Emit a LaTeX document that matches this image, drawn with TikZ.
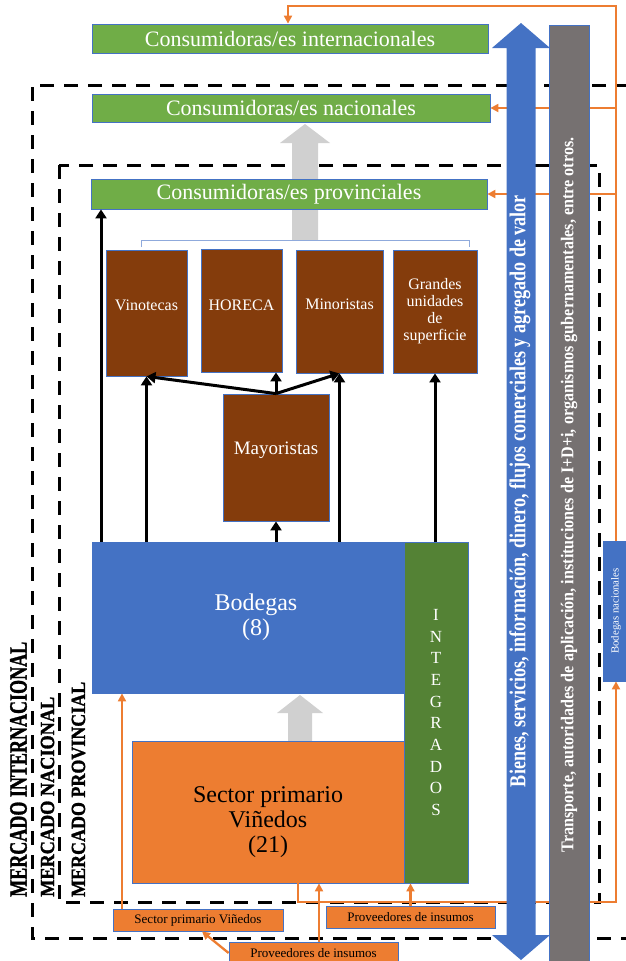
\documentclass[tikz,border=0pt]{standalone}
\usepackage{fontspec}
\setmainfont{Liberation Serif}
\usepackage{graphicx}
\usetikzlibrary{positioning,arrows.meta}
\definecolor{consgreen}{HTML}{70AD47}
\definecolor{edgeblue}{HTML}{4472C4}
\definecolor{wood}{HTML}{843C0C}
\definecolor{vineorange}{HTML}{ED7D31}
\definecolor{integgreen}{HTML}{548235}
\definecolor{bargray}{HTML}{767171}
\definecolor{blockgray}{HTML}{D0D0D0}
\definecolor{brkblue}{HTML}{8FAADC}
\newcommand{\shiftv}[2]{\raisebox{#1}[\height][\depth]{#2}}
\tikzset{
    consumer/.style={rectangle, draw=edgeblue, line width=0.8pt, fill=consgreen, text=white, inner sep=0pt, font=\fontsize{22}{24}\selectfont},
    retail/.style={rectangle, draw=edgeblue, line width=0.8pt, fill=wood, text=white, inner sep=0pt, align=center, font=\fontsize{16}{17}\selectfont},
    supply/.style={rectangle, draw=edgeblue, line width=0.8pt, fill=vineorange, text=black, inner sep=0pt, font=\fontsize{13}{15}\selectfont},
    market/.style={rotate=90, anchor=west, inner sep=0pt, font=\bfseries\addfontfeature{FakeBold=1.5}},
    zone/.style={line width=3pt, dash pattern=on 14pt off 10pt},
    brk/.style={draw=brkblue, line width=0.8pt},
    arr/.style={line width=3pt, -{Triangle[length=9pt,width=11pt]}},
    oarr/.style={draw=vineorange, line width=2.3pt, -{Triangle[length=8pt,width=8pt]}}
    }
\begin{document}
\begin{tikzpicture}[x=1pt, y=-1pt]
    \useasboundingbox (0,0) rectangle (625,961);
    % market zones
    \draw[zone] (630,85) -- (32,85) -- (32,938) -- (630,938);
    \draw[zone] (59,165) rectangle (599,902);
    % grey block arrows
    \fill[blockgray] (292,240) -- (292,143) -- (280,143) -- (305,124) -- (330,143) -- (318,143) -- (318,240) -- cycle;
    \fill[blockgray] (288,741) -- (288,713) -- (277,713) -- (300,695) -- (323,713) -- (312,713) -- (312,741) -- cycle;
    \draw[brk] (141,247) -- (141,240) -- (469,240) -- (469,247);

    \node[consumer, minimum width=396pt, minimum height=29pt] (intl) at (290,38.5) {Consumidoras/es internacionales};
    \node[consumer, minimum width=398pt, minimum height=28pt] (nac) at (291,108) {Consumidoras/es nacionales};
    \node[consumer, minimum width=396pt, minimum height=30pt] (prov) at (289,194) {Consumidoras/es provinciales};

    \node[retail, minimum width=81pt, minimum height=126pt] (vino) at (146.5,313) {\shiftv{8pt}{Vinotecas}};
    \node[retail, minimum width=81pt, minimum height=123pt] (horeca) at (241.5,310.5) {\shiftv{5pt}{HORECA}};
    \node[retail, minimum width=87pt, minimum height=123pt] (mino) at (339.5,311.5) {\shiftv{7pt}{Minoristas}};
    \node[retail, minimum width=84pt, minimum height=123pt] (gran) at (435,311.5) {Grandes\\unidades\\de\\superficie};
    \node[retail, minimum width=106pt, minimum height=127pt, font=\fontsize{19}{21}\selectfont] (mayo) at (276,457.5) {\shiftv{7pt}{Mayoristas}};

    \node[rectangle, draw=edgeblue, line width=0.8pt, fill=edgeblue, text=white, align=center, font=\fontsize{24}{25}\selectfont, minimum width=328pt, minimum height=151pt] (bod) at (256,617.5) {Bodegas\\(8)};
    \node[rectangle, draw=edgeblue, line width=0.8pt, fill=vineorange, text=black, font=\fontsize{24}{25}\selectfont, minimum width=272pt, minimum height=142pt] (sect) at (268,812) {\shiftv{-10pt}{\begin{tabular}{@{}c@{}}Sector primario\\Viñedos\\(21)\end{tabular}}};
    \node[rectangle, draw=edgeblue, line width=0.8pt, fill=integgreen, text=white, align=center, font=\fontsize{17}{21.7}\selectfont, minimum width=64pt, minimum height=341pt] (integ) at (436,712.5) {I\\N\\T\\E\\G\\R\\A\\D\\O\\S};

    \node[supply, minimum width=170pt, minimum height=22pt] (spv) at (198,920) {Sector primario Viñedos};
    \node[supply, minimum width=169pt, minimum height=22pt] (sup1) at (410.5,917) {Proveedores de insumos};
    \node[supply, minimum width=169pt, minimum height=22pt] (sup2) at (313.5,953) {Proveedores de insumos};
    \node[rectangle, draw=edgeblue, line width=0.8pt, fill=edgeblue, text=white, rotate=90, inner sep=0pt, font=\fontsize{10.8}{12}\selectfont, minimum width=140pt, minimum height=26pt] (bnac) at (616,611) {Bodegas nacionales};

    \coordinate (xl) at (101,0);
    \coordinate (xa) at (122,0);
    \coordinate (xb) at (202,0);
    \coordinate (xc) at (298,0);
    \coordinate (xd) at (319,0);
    \coordinate (xt) at (288,0);
    \coordinate (xr) at (616,0);
    \coordinate (ytop) at (0,6);
    \coordinate (ybot) at (0,902);

    % black flows
    \draw[arr] (bod.north -| xl) -- (prov.south -| xl);
    \draw[arr] (bod.north -| vino.south) -- (vino.south);
    \draw[arr] (bod.north -| mayo.south) -- (mayo.south);
    \draw[arr] (bod.north -| mino.south) -- (mino.south);
    \draw[arr] (integ.north -| gran.south) -- (gran.south);
    \draw[arr] (mayo.north) -- (vino.south);
    \draw[arr] (mayo.north) -- (horeca.south -| mayo.north);
    \draw[arr] (mayo.north) -- (mino.south);

    % orange flows
    \draw[oarr] (spv.north -| xa) -- (bod.south -| xa);
    \draw[oarr] (sup2.west) -- (spv.south -| xb);
    \draw[oarr] (sup2.north -| xd) -- (sect.south -| xd);
    \draw[oarr] (sup1.north) -- (integ.south -| sup1.north);
    \draw[oarr] (sect.south -| xc) |- (bnac.west |- ybot) -- (bnac.west);
    \draw[oarr] (bnac.east) -- (bnac.east |- ytop) -| (intl.north -| xt);
    \draw[oarr] (nac.east -| xr) -- (nac.east);
    \draw[oarr] (prov.east -| xr) -- (prov.east);

    % side bands
    \fill[edgeblue] (521,23) -- (550,48) -- (535.5,48) -- (535.5,935) -- (550,935) -- (521,960) -- (492,935) -- (506.5,935) -- (506.5,48) -- (492,48) -- cycle;
    \node[rotate=90, text=white, inner sep=0pt] (flow) at (520,491) {\resizebox{592pt}{16pt}{\bfseries Bienes, servicios, información, dinero, flujos comerciales y agregado de valor}};
    \node[rectangle, draw=edgeblue, line width=0.8pt, fill=bargray, text=white, rotate=90, inner sep=0pt, minimum width=940pt, minimum height=40pt] (trans) at (569,495) {\resizebox{715pt}{12.5pt}{\bfseries Transporte, autoridades de aplicación, instituciones de I+D+i, organismos gubernamentales, entre otros.}};

    \node[market] (mint) at (18.5,897) {\resizebox{255pt}{16.5pt}{MERCADO INTERNACIONAL}};
    \node[market] (mnac) at (47.5,897) {\resizebox{200pt}{13.3pt}{MERCADO NACIONAL}};
    \node[market] (mprov) at (78.5,897) {\resizebox{215pt}{13.3pt}{MERCADO PROVINCIAL}};
\end{tikzpicture}
\end{document}
